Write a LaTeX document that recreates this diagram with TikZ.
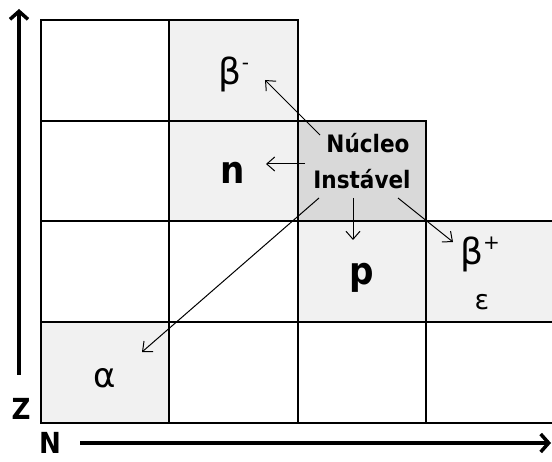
\documentclass[tikz,border=0pt]{standalone}
\usepackage{fontspec}
\setmainfont{DejaVu Sans}
\newfontfamily\condfont{DejaVu Sans Condensed}
\usetikzlibrary{arrows.meta}
\definecolor{lightcell}{HTML}{F1F1F1}
\definecolor{nucleuscell}{HTML}{D9D9D9}
\tikzset{
  cell/.style={draw=black, line width=1.6pt},
  axis/.style={line width=4pt, -{Straight Barb[length=8pt,width=18pt,line width=3.5pt]}},
  decay/.style={line width=1pt, -{Straight Barb[length=8pt,width=14pt,line width=1pt]}},
  lbl/.style={font=\condfont\bfseries\fontsize{38}{40}\selectfont, inner sep=0pt},
  axlbl/.style={font=\condfont\bfseries\fontsize{29}{31}\selectfont, inner sep=0pt},
  glbl/.style={font=\fontsize{36}{38}\selectfont, inner sep=0pt},
}
\begin{document}
\begin{tikzpicture}[x=1pt,y=1pt]
\useasboundingbox (0,0) rectangle (552,461);
% grid cells (column lefts 41,169,298,426; row tops 441,340,240,139; bottom 38)
\draw[cell, fill=white] (41,340) rectangle (169,441);
\draw[cell, fill=lightcell] (169,340) rectangle (298,441);
\draw[cell, fill=white] (41,240) rectangle (169,340);
\draw[cell, fill=lightcell] (169,240) rectangle (298,340);
\draw[cell, fill=nucleuscell] (298,240) rectangle (426,340);
\draw[cell, fill=white] (41,139) rectangle (169,240);
\draw[cell, fill=white] (169,139) rectangle (298,240);
\draw[cell, fill=lightcell] (298,139) rectangle (426,240);
\draw[cell, fill=lightcell] (426,139) rectangle (556,240);
\draw[cell, fill=lightcell] (41,38) rectangle (169,139);
\draw[cell, fill=white] (169,38) rectangle (298,139);
\draw[cell, fill=white] (298,38) rectangle (426,139);
\draw[cell, fill=white] (426,38) rectangle (556,139);

% labels
\node[glbl, anchor=base] (bminus) at (234,376) {β\raisebox{0.42em}{\fontsize{20}{20}\selectfont -}};
\node[lbl, anchor=base] (n) at (233,277) {n};
\node[lbl, anchor=base] (p) at (362,176) {p};
\node[glbl, anchor=base] (bplus) at (480,196) {β\raisebox{0.42em}{\fontsize{20}{20}\selectfont +}};
\node[font=\fontsize{27}{28}\selectfont, inner sep=0pt, anchor=base] (eps) at (482,151) {ε};
\node[font=\fontsize{34}{36}\selectfont, inner sep=0pt, anchor=base] (alpha) at (105,73) {α};
\node[font=\condfont\bfseries\fontsize{24}{36}\selectfont, align=center, inner sep=0pt] (nuc) at (362,300) {\hspace*{0.5em}Núcleo\\Instável};
\node[axlbl] (Z) at (21,52) {Z};
\node[axlbl, anchor=base] (N) at (50,8) {N};

% axes
\coordinate (zs) at (19,86);
\coordinate (ze) at (19,452);
\coordinate (ns) at (80,18);
\coordinate (ne) at (551,18);
\draw[axis] (zs) -- (ze);
\draw[axis] (ns) -- (ne);

% decay arrows
\coordinate (a1s) at (320,326); \coordinate (a1e) at (265,381);
\coordinate (a2s) at (305,297); \coordinate (a2e) at (266,297);
\coordinate (a3s) at (353,263); \coordinate (a3e) at (353,221);
\coordinate (a4s) at (398,263); \coordinate (a4e) at (453,219);
\coordinate (a5s) at (319,263); \coordinate (a5e) at (142,109);
\draw[decay] (a1s) -- (a1e);
\draw[decay] (a2s) -- (a2e);
\draw[decay] (a3s) -- (a3e);
\draw[decay] (a4s) -- (a4e);
\draw[decay] (a5s) -- (a5e);
\end{tikzpicture}
\end{document}
